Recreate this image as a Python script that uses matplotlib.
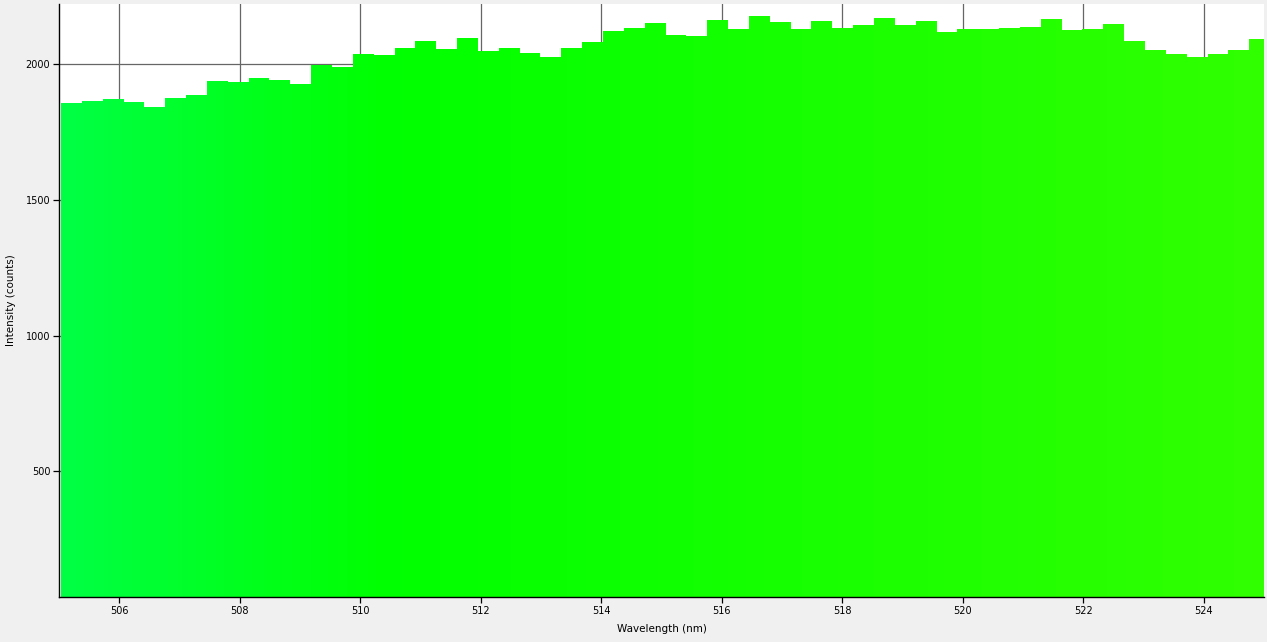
import numpy as np
import matplotlib
matplotlib.use("Agg")
import matplotlib.pyplot as plt
from matplotlib.colors import LinearSegmentedColormap

# spectrum bins (left edge, nm) and counts
bin_start = [505.033, 505.379, 505.725, 506.071, 506.417, 506.763, 507.109, 507.455,
             507.801, 508.147, 508.493, 508.839, 509.185, 509.531, 509.877, 510.223,
             510.569, 510.915, 511.261, 511.607, 511.953, 512.299, 512.645, 512.991,
             513.337, 513.683, 514.029, 514.375, 514.721, 515.067, 515.413, 515.759,
             516.105, 516.451, 516.797, 517.143, 517.489, 517.835, 518.181, 518.527,
             518.873, 519.219, 519.565, 519.911, 520.257, 520.603, 520.949, 521.295,
             521.641, 521.987, 522.333, 522.679, 523.025, 523.371, 523.717, 524.063,
             524.409, 524.755]
bin_end = 525.101
counts = [1857, 1866, 1872, 1862, 1843, 1877, 1888, 1940, 1936, 1950,
          1943, 1929, 1999, 1991, 2039, 2035, 2060, 2086, 2056, 2097,
          2049, 2060, 2042, 2027, 2060, 2082, 2123, 2134, 2152, 2108,
          2105, 2163, 2130, 2178, 2156, 2130, 2159, 2134, 2145, 2171,
          2145, 2159, 2119, 2130, 2130, 2134, 2138, 2167, 2127, 2130,
          2149, 2086, 2053, 2038, 2027, 2038, 2053, 2093]

x_ticks = [506, 508, 510, 512, 514, 516, 518, 520, 522, 524]
y_ticks = [500, 1000, 1500, 2000]
x_min, x_max = 505, 525
y_min, y_max = 37, 2222

# wavelength -> colour, roughly as the spectrometer software draws it
spec = LinearSegmentedColormap.from_list(
    "spec", [(0.0, (0.0, 1.0, 0.27)), (0.27, (0.0, 1.0, 0.0)), (1.0, (0.19, 1.0, 0.0))])

fig = plt.figure(figsize=(12.67, 6.42), dpi=100, facecolor="#f0f0f0")
ax = fig.add_axes([59 / 1267, 45 / 642, 1205 / 1267, 593 / 642])
ax.set_facecolor("white")

edges = np.array(bin_start + [bin_end])
outline = ax.stairs(counts, edges, baseline=0, fill=True, facecolor="none",
                    edgecolor="none", linewidth=0)

grad = np.linspace(0, 1, 600).reshape(1, -1)
im = ax.imshow(grad, cmap=spec, extent=[x_min, x_max, 0, y_max], aspect="auto",
               interpolation="bilinear", zorder=2)
im.set_clip_path(outline)

ax.set_xlim(x_min, x_max)
ax.set_ylim(y_min, y_max)
ax.set_xticks(x_ticks)
ax.set_yticks(y_ticks)
ax.set_axisbelow(True)
ax.grid(True, color="#666666", linewidth=0.9, zorder=0)

for s in ["top", "right"]:
    ax.spines[s].set_visible(False)
for s in ["left", "bottom"]:
    ax.spines[s].set_color("black")
    ax.spines[s].set_linewidth(1.0)
    ax.spines[s].set_zorder(5)

ax.tick_params(direction="out", length=4.3, width=0.9, labelsize=7, pad=2, colors="black")
ax.set_xlabel("Wavelength (nm)", fontsize=7.5, labelpad=6)
ax.set_ylabel("Intensity (counts)", fontsize=7.5, labelpad=7)

fig.savefig("out.png", dpi=100, facecolor=fig.get_facecolor())
